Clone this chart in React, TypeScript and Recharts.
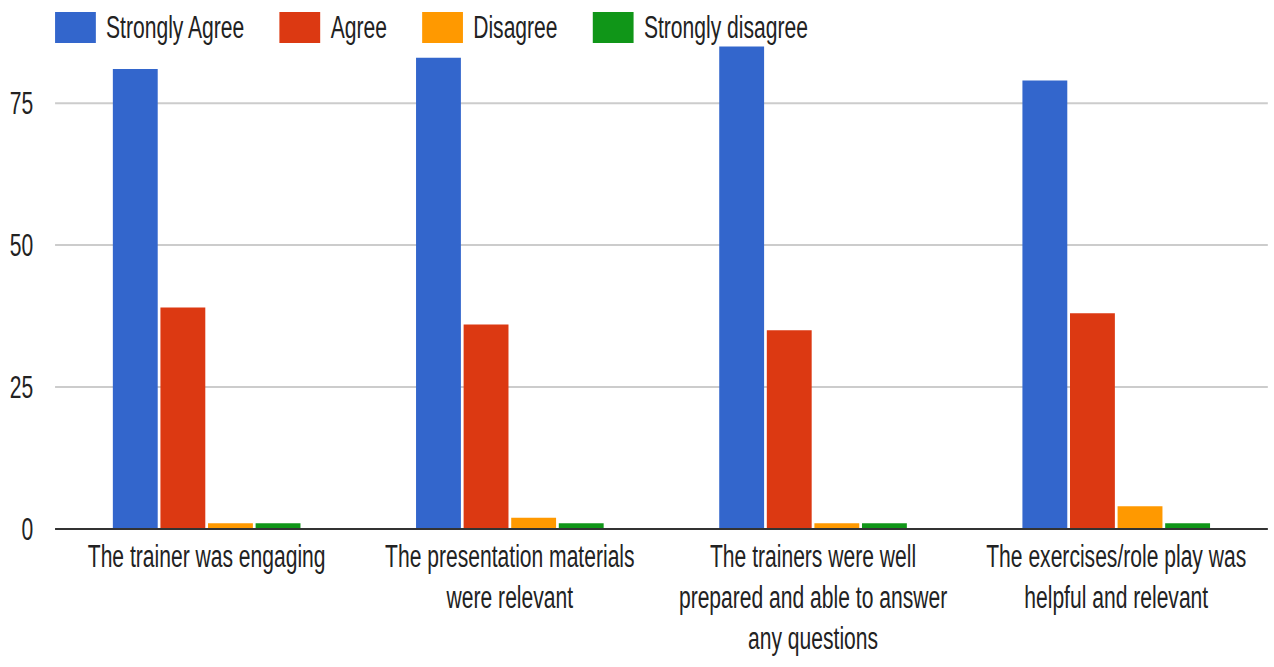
import { BarChart, Bar, XAxis, YAxis, CartesianGrid, Legend } from 'recharts';

const categories = [
  'The trainer was engaging',
  'The presentation materials were relevant',
  'The trainers were well prepared and able to answer any questions',
  'The exercises/role play was helpful and relevant',
];

const stronglyAgree = [81, 83, 85, 79];
const agree = [39, 36, 35, 38];
const disagree = [1, 2, 1, 4];
const stronglyDisagree = [1, 1, 1, 1];

const yTicks = [0, 25, 50, 75];

const series = [
  { key: 'stronglyAgree', name: 'Strongly Agree', color: '#3366cc' },
  { key: 'agree', name: 'Agree', color: '#dc3912' },
  { key: 'disagree', name: 'Disagree', color: '#ff9900' },
  { key: 'stronglyDisagree', name: 'Strongly disagree', color: '#109618' },
];

const data = categories.map((category, i) => ({
  category,
  stronglyAgree: stronglyAgree[i],
  agree: agree[i],
  disagree: disagree[i],
  stronglyDisagree: stronglyDisagree[i],
}));

const FONT = '"Liberation Sans", Arial, sans-serif';
const SCALE_X = 0.6798;
const INNER_W = 1874;
const H = 667;

// split a label into lines of at most maxChars
function wrap(text: string, maxChars: number) {
  const words = text.split(' ');
  const lines: string[] = [];
  let cur = '';
  words.forEach((w) => {
    const next = cur ? cur + ' ' + w : w;
    if (next.length > maxChars && cur) {
      lines.push(cur);
      cur = w;
    } else {
      cur = next;
    }
  });
  if (cur) lines.push(cur);
  return lines;
}

function XTick({ x, y, payload }: any) {
  const lines = wrap(payload.value, 27);
  return (
    <text x={x} y={y} textAnchor="middle" fill="#222" fontSize={31} fontFamily={FONT}>
      {lines.map((l, i) => (
        <tspan key={i} x={x} dy={i === 0 ? 38 : 41}>
          {l}
        </tspan>
      ))}
    </text>
  );
}

function LegendContent({ payload }: any) {
  // keep the series order instead of the alphabetical one
  const items = series
    .map((s) => (payload || []).find((p: any) => p.value === s.name))
    .filter(Boolean);
  return (
    <div style={{ display: 'flex', alignItems: 'center', paddingLeft: 81, paddingTop: 12 }}>
      {items.map((entry: any) => (
        <div key={entry.value} style={{ display: 'flex', alignItems: 'center', marginRight: 52 }}>
          <div style={{ width: 60, height: 31, background: entry.color, marginRight: 15 }} />
          <span style={{ fontSize: 31, fontFamily: FONT, color: '#222', lineHeight: '31px' }}>
            {entry.value}
          </span>
        </div>
      ))}
    </div>
  );
}

export default function App() {
  return (
    <div style={{ width: 1274, height: H, overflow: 'hidden', background: '#fff' }}>
      <style>{'body{margin:0}'}</style>
      <div style={{ width: INNER_W, height: H, transform: `scaleX(${SCALE_X})`, transformOrigin: '0 0' }}>
        <BarChart
          width={INNER_W}
          height={H}
          data={data}
          margin={{ top: 18, right: 9, bottom: 0, left: 0 }}
          barCategoryGap={85}
          barGap={4}
        >
          <CartesianGrid vertical={false} stroke="#cccccc" strokeWidth={2} syncWithTicks />
          <XAxis
            dataKey="category"
            height={138}
            interval={0}
            tickLine={false}
            tickSize={0}
            tickMargin={0}
            axisLine={{ stroke: '#333', strokeWidth: 2 }}
            tick={<XTick />}
          />
          <YAxis
            width={81}
            domain={[0, 90]}
            ticks={yTicks}
            axisLine={false}
            tickLine={false}
            tickSize={0}
            tickMargin={32}
            tick={{ fill: '#222', fontSize: 31, fontFamily: FONT }}
          />
          <Legend
            layout="horizontal"
            verticalAlign="middle"
            align="center"
            wrapperStyle={{ top: 0, left: 0 }}
            content={<LegendContent />}
          />
          {series.map((s) => (
            <Bar key={s.key} dataKey={s.key} name={s.name} fill={s.color} isAnimationActive={false} />
          ))}
        </BarChart>
      </div>
    </div>
  );
}
